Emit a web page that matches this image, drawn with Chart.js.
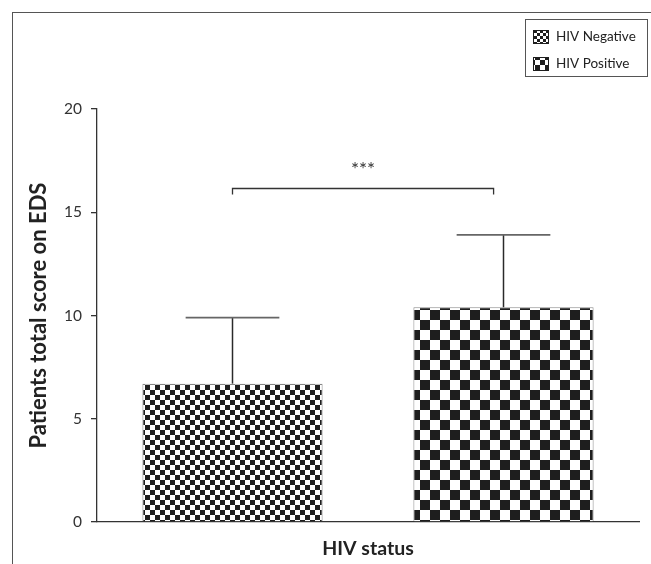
<!DOCTYPE html>
<html>
<head>
<meta charset="utf-8">
<script src="https://cdn.jsdelivr.net/npm/chart.js@4.4.1/dist/chart.umd.min.js"></script>
<style>
  html, body { margin: 0; padding: 0; background: #fff; overflow: hidden; }
  #wrap { position: relative; width: 651px; height: 564px; }
  #frame { position: absolute; left: 12px; top: 12px; width: 700px; height: 600px;
           border-left: 1.3px solid #555; border-top: 1.3px solid #555; }
  canvas { position: absolute; left: 0; top: 0; }
</style>
</head>
<body>
<div id="wrap">
  <div id="frame"></div>
  <canvas id="chart" width="651" height="564"></canvas>
</div>
<script>
const categories = ['HIV status'];
const seriesNames = ['HIV Negative', 'HIV Positive'];
const meanScores = [6.7, 10.4];
const sdScores = [3.2, 3.5];
const yTicks = [0, 5, 10, 15, 20];
const sigLabel = '***';
const sigLevel = 16.15;

const FONT = 'Lato, "Open Sans", sans-serif';

// checkerboard fill, cell in px
function checker(cell) {
  const c = document.createElement('canvas');
  c.width = cell * 2; c.height = cell * 2;
  const g = c.getContext('2d');
  g.fillStyle = '#fff'; g.fillRect(0, 0, c.width, c.height);
  g.fillStyle = '#1e1e1e';
  g.fillRect(0, 0, cell, cell);
  g.fillRect(cell, cell, cell, cell);
  return g.createPattern(c, 'repeat');
}
const fills = [checker(5), checker(10)];
const swatchFills = [checker(3), checker(5)];

const extras = {
  id: 'extras',
  afterDatasetsDraw(chart) {
    const ctx = chart.ctx, y = chart.scales.y;
    const bars = chart.data.datasets.map((d, i) => chart.getDatasetMeta(i).data[0]);
    ctx.save();
    // error bars (upper)
    bars.forEach((b, i) => {
      const top = y.getPixelForValue(meanScores[i] + sdScores[i]);
      const half = b.width * 0.26;
      ctx.strokeStyle = '#2a2a2a'; ctx.lineWidth = 1.5;
      ctx.beginPath(); ctx.moveTo(b.x, b.y); ctx.lineTo(b.x, top); ctx.stroke();
      ctx.strokeStyle = '#666'; ctx.lineWidth = 1.8;
      ctx.beginPath(); ctx.moveTo(b.x - half, top); ctx.lineTo(b.x + half, top); ctx.stroke();
    });
    // significance bracket
    const by = y.getPixelForValue(sigLevel);
    const x0 = bars[0].x, x1 = bars[1].x - bars[1].width * 0.055;
    ctx.strokeStyle = '#333'; ctx.lineWidth = 1.3;
    ctx.beginPath();
    ctx.moveTo(x0, by + 6); ctx.lineTo(x0, by); ctx.lineTo(x1, by); ctx.lineTo(x1, by + 6);
    ctx.stroke();
    ctx.fillStyle = '#333'; ctx.font = '19px ' + FONT;
    ctx.textAlign = 'center'; ctx.textBaseline = 'middle';
    ctx.fillText(sigLabel, (x0 + x1) / 2, by - 19);
    // legend box
    const lw = 122, lh = 57, lx = chart.width - 4 - lw, ly = 19;
    ctx.strokeStyle = '#555'; ctx.lineWidth = 1;
    ctx.strokeRect(lx + 0.5, ly + 0.5, lw, lh);
    ctx.font = '13.5px ' + FONT; ctx.textAlign = 'left'; ctx.textBaseline = 'middle';
    chart.data.datasets.forEach((d, i) => {
      const cy = ly + 18 + i * 27;
      ctx.fillStyle = swatchFills[i];
      ctx.fillRect(lx + 8, cy - 7, 16, 14);
      ctx.strokeStyle = '#1e1e1e';
      ctx.strokeRect(lx + 8.5, cy - 6.5, 15, 13);
      ctx.fillStyle = '#222';
      ctx.fillText(d.label, lx + 31, cy);
    });
    ctx.restore();
  }
};

new Chart(document.getElementById('chart'), {
  type: 'bar',
  data: {
    labels: categories,
    datasets: seriesNames.map((name, i) => ({
      label: name,
      data: [meanScores[i]],
      backgroundColor: fills[i],
      borderColor: '#8a8a8a',
      borderWidth: 1,
      barPercentage: 0.665,
      categoryPercentage: 1
    }))
  },
  options: {
    responsive: false,
    animation: false,
    layout: { padding: { top: 109, right: 12, left: 0, bottom: 0 } },
    plugins: { legend: { display: false }, tooltip: { enabled: false } },
    scales: {
      x: {
        afterFit: (s) => { s.height = 42; },
        ticks: { display: false },
        grid: { display: false },
        border: { color: '#333', width: 1.3 },
        title: { display: true, text: 'HIV status', color: '#222',
                 font: { family: FONT, size: 19.5, weight: 'bold' }, padding: { top: 7 } }
      },
      y: {
        min: 0, max: 20,
        afterFit: (s) => { s.width = 97; },
        afterBuildTicks: (s) => { s.ticks = yTicks.map(v => ({ value: v })); },
        ticks: { color: '#333', padding: 9, font: { family: FONT, size: 15.5 } },
        grid: { drawOnChartArea: false, drawTicks: true, tickLength: 6, color: '#333', lineWidth: 1.3 },
        border: { color: '#333', width: 1.3 },
        title: { display: true, text: 'Patients total score on EDS', color: '#222',
                 font: { family: FONT, size: 22, weight: 'bold' }, padding: { top: 26, bottom: 0 } }
      }
    }
  },
  plugins: [extras]
});
</script>
</body>
</html>
